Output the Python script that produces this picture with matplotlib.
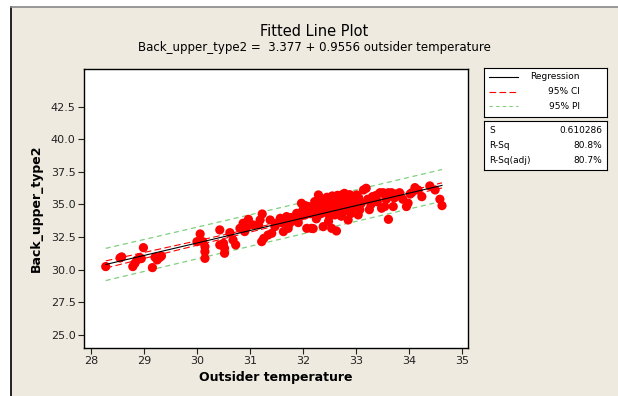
import numpy as np
import matplotlib
matplotlib.use('Agg')
import matplotlib.pyplot as plt
from matplotlib.patches import Rectangle

# valori (temperatura esterna, Back_upper_type2)
temp = [
    28.28, 28.55, 28.58, 28.79, 28.83, 28.87, 28.92, 28.95, 28.99, 29.16, 29.21, 29.25, 29.30, 29.33,
    30.00, 30.06, 30.11, 30.15, 30.15, 30.15, 30.43, 30.43, 30.50, 30.52, 30.52, 30.62, 30.68, 30.73,
    30.81, 30.87, 30.90, 30.97, 30.93,
    31.06, 31.16, 31.19, 31.23, 31.22, 31.26, 31.34, 31.38, 31.41, 31.47, 31.50, 31.57, 31.63, 31.69,
    31.72, 31.75, 31.82, 31.85, 31.88, 31.91, 31.94, 31.97, 31.99, 31.60, 31.78,
    32.00, 32.04, 32.07, 32.10, 32.13, 32.16, 32.19, 32.22, 32.26, 32.29, 32.29, 32.32, 32.35, 32.38,
    32.41, 32.44, 32.47, 32.51, 32.54, 32.57, 32.60, 32.63, 32.63, 32.66, 32.70, 32.73, 32.76, 32.79,
    32.82, 32.85, 32.88, 32.91, 32.94, 32.98, 33.01, 33.04, 33.07, 33.10, 33.14, 33.19,
    32.45, 32.55, 32.65, 32.70, 32.75, 32.80, 32.85, 32.90, 32.95, 33.00, 32.50, 32.60, 32.30, 32.20,
    32.40, 32.68, 32.78, 32.88, 33.05, 32.58, 32.35, 32.15, 32.05, 32.25, 32.48, 32.72,
    33.22, 33.28, 33.31, 33.38, 33.45, 33.48, 33.51, 33.54, 33.57, 33.61, 33.61, 33.67, 33.70, 33.76,
    33.82, 33.88, 33.95, 33.98, 34.02, 34.11, 34.17, 34.24, 34.39, 34.49, 34.58, 34.62, 33.40, 33.25,
    33.72, 34.05,
]
back = [
    30.24, 30.90, 30.98, 30.24, 30.49, 30.75, 30.93, 30.85, 31.69, 30.16, 30.95, 30.75, 30.95, 31.05,
    32.15, 32.74, 32.15, 31.77, 31.39, 30.87, 33.05, 31.90, 32.02, 31.64, 31.26, 32.84, 32.28, 31.90,
    33.17, 33.56, 32.92, 33.86, 33.20,
    33.43, 33.43, 33.81, 34.27, 32.15, 32.40, 32.66, 33.81, 32.79, 33.30, 33.56, 33.94, 32.92, 34.07,
    33.17, 33.56, 33.81, 34.07, 34.32, 33.61, 34.07, 35.09, 34.45, 33.60, 34.00,
    34.58, 34.20, 33.17, 34.84, 34.30, 33.17, 33.15, 35.22, 34.71, 35.73, 34.20, 35.09, 34.32, 33.30,
    34.90, 35.09, 34.50, 35.35, 33.17, 34.80, 35.47, 32.97, 34.60, 35.30, 34.90, 35.73, 35.10, 34.50,
    35.60, 33.81, 34.90, 35.40, 35.60, 34.80, 35.73, 34.20, 34.60, 35.10, 36.11, 36.24,
    35.55, 35.65, 35.70, 35.20, 34.40, 35.30, 35.00, 34.30, 35.20, 35.40, 34.10, 34.20, 34.80, 34.50,
    35.30, 35.00, 35.85, 35.75, 35.50, 35.15, 35.00, 34.70, 34.90, 33.90, 33.70, 34.10,
    35.40, 35.00, 35.60, 35.70, 35.90, 34.71, 35.90, 34.84, 35.40, 35.90, 33.86, 35.90, 34.84, 35.80,
    35.90, 35.40, 34.84, 35.10, 35.80, 36.29, 36.10, 35.60, 36.42, 36.11, 35.40, 34.91, 35.20, 34.60,
    35.50, 35.90,
]

intercetta = 3.377
pendenza = 0.9556
S = 0.610286
stats_label = ['S', 'R-Sq', 'R-Sq(adj)']
stats_val = ['0.610286', '80.8%', '80.7%']

x = np.array(temp)
n = len(x)
xm = x.mean()
sxx = ((x - xm) ** 2).sum()
t = 1.97
xs = np.linspace(x.min(), x.max(), 100)
fit = intercetta + pendenza * xs
ci = t * S * np.sqrt(1 / n + (xs - xm) ** 2 / sxx)
pi = t * S * np.sqrt(1 + 1 / n + (xs - xm) ** 2 / sxx)

bg = '#eeeae0'
fig = plt.figure(figsize=(6.18, 3.96), dpi=100)
fig.patch.set_facecolor('white')
W, H = 618, 396

def fx(px):
    return px / W

def fy(py):
    return 1 - py / H

frame = Rectangle((fx(11), 0), 1 - fx(11), fy(7), transform=fig.transFigure,
                  facecolor=bg, edgecolor='none', zorder=-10)
fig.patches.append(frame)
fig.add_artist(plt.Line2D([fx(11), fx(11)], [0, fy(7)], color='black', lw=1.2, transform=fig.transFigure))
fig.add_artist(plt.Line2D([fx(11), 1], [fy(7), fy(7)], color='#888888', lw=1.2, transform=fig.transFigure))

ax = fig.add_axes([fx(84), fy(348), fx(468) - fx(84), fy(69) - fy(348)])
ax.set_facecolor('white')
ax.scatter(temp, back, s=44, color='red', edgecolors='none', zorder=3)
ax.plot(xs, fit, color='black', lw=0.8, zorder=4)
ax.plot(xs, fit + ci, color='red', lw=0.8, dashes=(6, 3), zorder=2)
ax.plot(xs, fit - ci, color='red', lw=0.8, dashes=(6, 3), zorder=2)
ax.plot(xs, fit + pi, color='#7fcf7f', lw=0.9, dashes=(4, 3), zorder=2)
ax.plot(xs, fit - pi, color='#7fcf7f', lw=0.9, dashes=(4, 3), zorder=2)

ax.set_xlim(27.87, 35.11)
ax.set_ylim(24.0, 45.38)
ax.set_xticks(range(28, 36))
ax.set_yticks([25.0, 27.5, 30.0, 32.5, 35.0, 37.5, 40.0, 42.5])
ax.set_yticklabels([f'{v:.1f}' for v in [25.0, 27.5, 30.0, 32.5, 35.0, 37.5, 40.0, 42.5]])
ax.tick_params(direction='out', length=4, width=0.8, labelsize=8, colors='#222222', pad=2)
for sp in ax.spines.values():
    sp.set_linewidth(1.0)
    sp.set_color('black')

ax.set_xlabel('Outsider temperature', fontsize=9, fontweight='bold', labelpad=3)
ax.set_ylabel('Back_upper_type2', fontsize=9, fontweight='bold', labelpad=6)

fig.text(fx(314), fy(31), 'Fitted Line Plot', ha='center', va='center', fontsize=10.5, fontweight='medium')
fig.text(fx(314), fy(48), 'Back_upper_type2 =  3.377 + 0.9556 outsider temperature',
         ha='center', va='center', fontsize=8.5)

# legenda
leg = fig.add_axes([fx(484), fy(117), fx(607) - fx(484), fy(68) - fy(117)])
leg.set_xlim(0, 1)
leg.set_ylim(0, 1)
leg.set_xticks([])
leg.set_yticks([])
leg.set_facecolor('white')
for sp in leg.spines.values():
    sp.set_linewidth(0.8)
voci = [('Regression', 'black', None), ('95% CI', 'red', (6, 3)), ('95% PI', '#7fcf7f', (3, 3))]
for i, (lab, col, ds) in enumerate(voci):
    yy = 0.82 - i * 0.3
    if ds is None:
        leg.plot([0.04, 0.28], [yy, yy], color=col, lw=0.8)
    else:
        leg.plot([0.04, 0.28], [yy, yy], color=col, lw=0.8, dashes=ds)
    leg.text(0.78, yy, lab, ha='right', va='center', fontsize=6.5)

# statistiche
st = fig.add_axes([fx(484), fy(170), fx(607) - fx(484), fy(121) - fy(170)])
st.set_xlim(0, 1)
st.set_ylim(0, 1)
st.set_xticks([])
st.set_yticks([])
st.set_facecolor('white')
for sp in st.spines.values():
    sp.set_linewidth(0.8)
for i, (lab, val) in enumerate(zip(stats_label, stats_val)):
    yy = 0.8 - i * 0.3
    st.text(0.04, yy, lab, ha='left', va='center', fontsize=6.5)
    st.text(0.96, yy, val, ha='right', va='center', fontsize=6.5)

plt.savefig('out.png', dpi=100, facecolor=fig.get_facecolor())
plt.close()
